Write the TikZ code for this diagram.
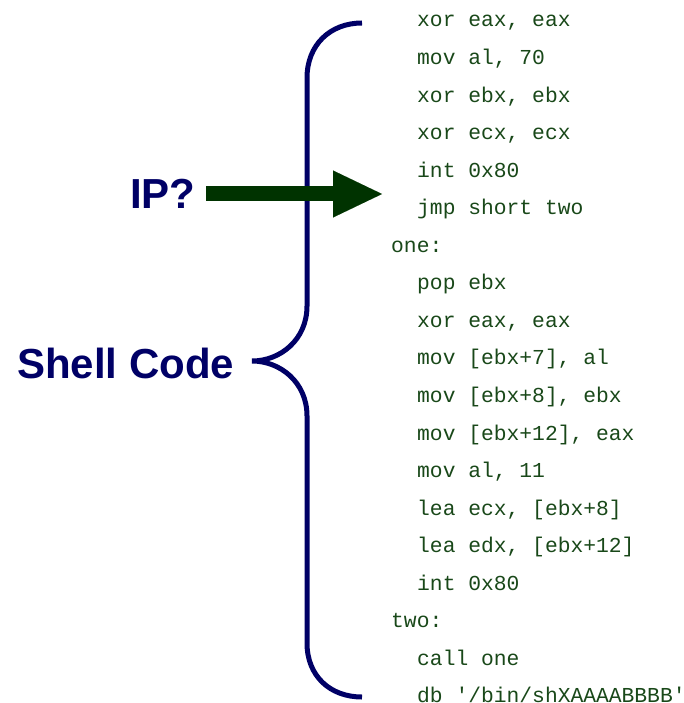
\documentclass[tikz,border=0pt]{standalone}
\usepackage{fontspec}
\setsansfont{Liberation Sans}
\setmonofont{Liberation Mono}
\usetikzlibrary{arrows.meta}
\definecolor{navy}{RGB}{0,0,102}
\definecolor{codegreen}{RGB}{25,72,25}
\definecolor{arrowgreen}{RGB}{0,51,0}
\begin{document}
\begin{tikzpicture}[x=1pt,y=-1pt,
 code/.style={anchor=base west,inner sep=0pt,text=codegreen,font=\ttfamily\fontsize{21.3}{21.3}\selectfont},
 lbl/.style={anchor=base west,inner sep=0pt,text=navy,font=\sffamily\bfseries\fontsize{42}{42}\selectfont},
 brace/.style={draw=navy,line width=5pt},
 ptr/.style={draw=arrowgreen,line width=15pt,-{Triangle[length=49pt,width=47pt,line width=0.01pt,fill=arrowgreen]}}]
\useasboundingbox (0,0) rectangle (683,703);
% code lines
\node[code] (c0)  at (417,27)     {xor eax, eax};
\node[code] (c1)  at (417,64.55)  {mov al, 70};
\node[code] (c2)  at (417,102.1)  {xor ebx, ebx};
\node[code] (c3)  at (417,139.65) {xor ecx, ecx};
\node[code] (c4)  at (417,177.2)  {int 0x80};
\node[code] (c5)  at (417,214.75) {jmp short two};
\node[code] (c6)  at (391,252.3)  {one:};
\node[code] (c7)  at (417,289.85) {pop ebx};
\node[code] (c8)  at (417,327.4)  {xor eax, eax};
\node[code] (c9)  at (417,364.95) {mov [ebx+7], al};
\node[code] (c10) at (417,402.5)  {mov [ebx+8], ebx};
\node[code] (c11) at (417,440.05) {mov [ebx+12], eax};
\node[code] (c12) at (417,477.6)  {mov al, 11};
\node[code] (c13) at (417,515.15) {lea ecx, [ebx+8]};
\node[code] (c14) at (417,552.7)  {lea edx, [ebx+12]};
\node[code] (c15) at (417,590.25) {int 0x80};
\node[code] (c16) at (391,627.8)  {two:};
\node[code] (c17) at (417,665.35) {call one};
\node[code] (c18) at (417,702.9)  {db '/bin/shXAAAABBBB'};
% labels
\node[lbl] (ip) at (130,209) {IP?};
\node[lbl] (shell) at (17,378) {Shell Code};
% brace
\draw[brace] (362,23) .. controls (330,23) and (307,45) .. (307,78)
  -- (307,306) .. controls (307,340) and (280,361) .. (252,361)
  .. controls (280,361) and (307,382) .. (307,416)
  -- (307,643) .. controls (307,676) and (330,697) .. (362,697);
% arrow
\coordinate (ipstart) at (206,194);
\coordinate (iptip) at (382,194);
\draw[ptr] (ipstart) -- (iptip);
\end{tikzpicture}
\end{document}
